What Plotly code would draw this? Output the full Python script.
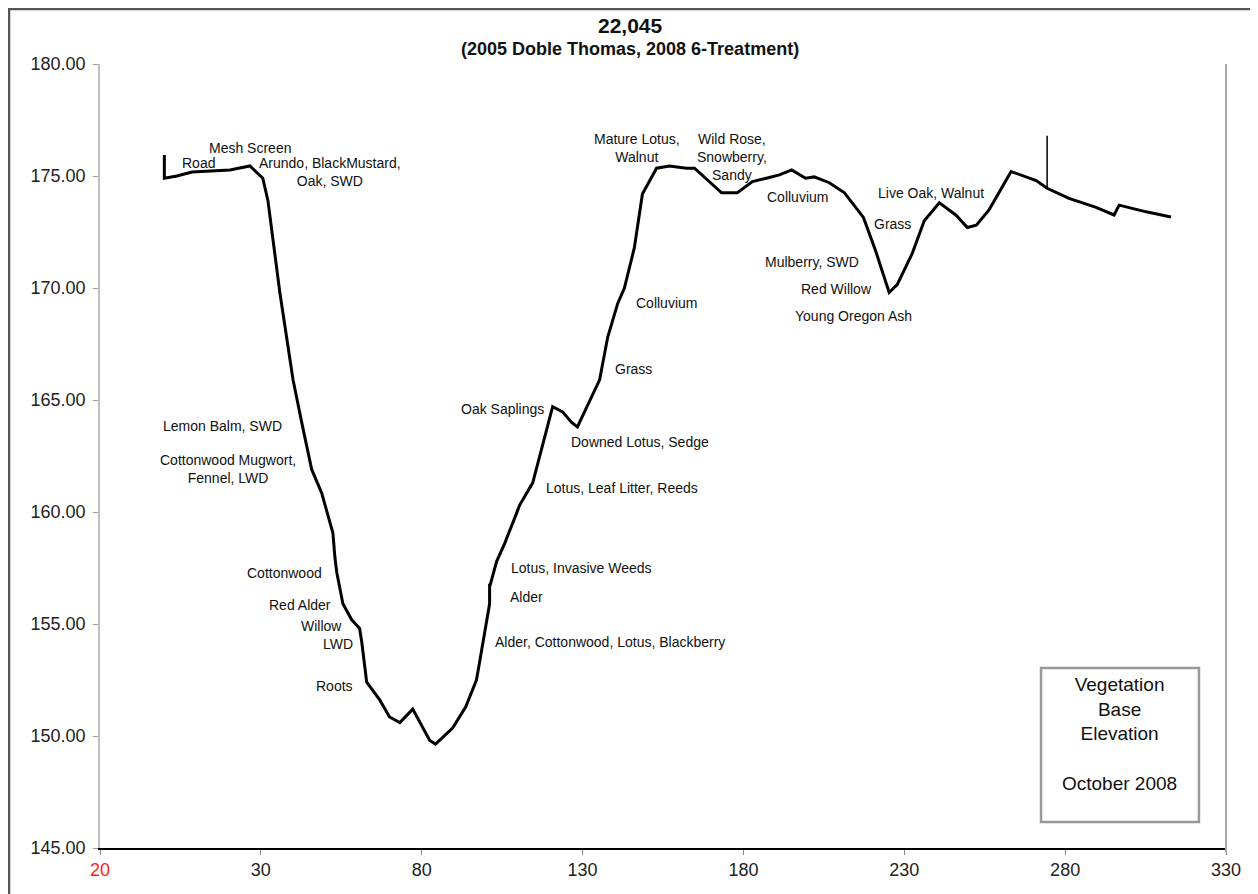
import plotly.graph_objects as go

# ---- data ----
distance = [0, 0, 3.9, 8.6, 20.4, 26.6, 30.6, 32.2, 35.9, 40.0, 42.7, 45.8, 48.9, 52.4, 53.0,
            53.6, 55.5, 58.2, 60.7, 61.4, 62.9, 67.0, 70.0, 73.2, 77.2, 82.5, 84.3, 89.6, 93.7,
            97.0, 98.0, 101.1, 101.1, 101.1, 103.3, 105.8, 109.5, 110.4, 114.5, 116.6, 120.7,
            123.8, 126.6, 128.4, 132.2, 135.3, 137.8, 140.9, 143.0, 146.1, 148.6, 150.2, 153.0,
            157.0, 162.3, 164.8, 173.2, 178.1, 182.8, 187.1, 191.2, 195.0, 199.3, 202.0, 206.7,
            211.4, 217.3, 221.0, 225.3, 227.8, 232.5, 236.2, 240.9, 246.1, 249.6, 252.4, 256.4,
            263.2, 271.0, 274.4, 281.2, 289.6, 295.2, 296.8, 305.2, 312.9]
elevation = [175.94, 174.9, 175.0, 175.18, 175.27, 175.45, 174.9, 173.9, 169.8, 165.9, 164.0,
             161.9, 160.85, 159.06, 158.0, 157.3, 155.9, 155.2, 154.8, 154.15, 152.4, 151.6,
             150.85, 150.6, 151.2, 149.8, 149.64, 150.35, 151.3, 152.5, 153.3, 155.9, 156.8,
             156.65, 157.8, 158.6, 159.95, 160.3, 161.3, 162.45, 164.7, 164.47, 164.0, 163.8,
             165.0, 165.9, 167.8, 169.3, 170.0, 171.8, 174.2, 174.6, 175.35, 175.45, 175.35,
             175.35, 174.25, 174.25, 174.75, 174.9, 175.05, 175.27, 174.9, 174.96, 174.7,
             174.25, 173.15, 171.7, 169.8, 170.15, 171.55, 173.0, 173.8, 173.25, 172.7, 172.8,
             173.5, 175.2, 174.8, 174.45, 174.0, 173.6, 173.26, 173.7, 173.4, 173.17]

marker_x = [274.4, 274.4]
marker_y = [174.45, 176.8]

tick_vals = [-20, 30, 80, 130, 180, 230, 280, 330]
tick_text = ["<span style='color:#ff2020'>20</span>", "30", "80", "130", "180", "230", "280", "330"]

label_text = ["Mesh Screen", "Road", "Arundo, BlackMustard,<br>Oak, SWD", "Mature Lotus,<br>Walnut",
              "Wild Rose,<br>Snowberry,<br>Sandy", "Colluvium", "Live Oak, Walnut", "Grass",
              "Mulberry, SWD", "Red Willow", "Young Oregon Ash", "Colluvium", "Grass",
              "Oak Saplings", "Downed Lotus, Sedge", "Lotus, Leaf Litter, Reeds",
              "Lotus, Invasive Weeds", "Alder", "Alder, Cottonwood, Lotus, Blackberry",
              "Lemon Balm, SWD", "Cottonwood Mugwort,<br>Fennel, LWD", "Cottonwood",
              "Red Alder", "Willow", "LWD", "Roots"]
label_x = [26.6, 10.7, 51.4, 146.8, 176.3, 196.8, 238.4, 226.3, 201.4, 208.9, 214.2, 156.1,
           145.8, 105.2, 147.7, 142.4, 129.7, 112.6, 138.4, 18.2, 19.75, 37.5, 42.1, 48.9,
           53.9, 53.0]
label_y = [176.25, 175.58, 175.18, 176.25, 175.85, 174.06, 174.24, 172.86, 171.16, 169.96,
           168.75, 169.33, 166.38, 164.6, 163.13, 161.07, 157.5, 156.2, 154.2, 163.84, 161.9,
           157.28, 155.85, 154.9, 154.1, 152.23]

FONT = "Liberation Sans, Arial, sans-serif"

fig = go.Figure()
fig.add_trace(go.Scatter(x=distance, y=elevation, mode="lines",
                         line=dict(color="black", width=3), showlegend=False,
                         hoverinfo="skip"))
fig.add_trace(go.Scatter(x=marker_x, y=marker_y, mode="lines",
                         line=dict(color="black", width=1.5), showlegend=False,
                         hoverinfo="skip"))

annotations = []
for t, x, y in zip(label_text, label_x, label_y):
    annotations.append(dict(text=t, x=x, y=y, xref="x", yref="y", showarrow=False,
                            xanchor="center", yanchor="middle",
                            font=dict(family=FONT, size=14, color="#111111")))

# title
annotations.append(dict(text="<b>22,045</b>", x=0.4707, y=1.0497, xref="paper", yref="paper",
                        showarrow=False, xanchor="center", yanchor="middle",
                        font=dict(family=FONT, size=21, color="#111111")))
annotations.append(dict(text="<b>(2005 Doble Thomas, 2008 6-Treatment)</b>", x=0.4707, y=1.019,
                        xref="paper", yref="paper", showarrow=False, xanchor="center",
                        yanchor="middle", font=dict(family=FONT, size=18, color="#111111")))
# vegetation box text
annotations.append(dict(text="Vegetation<br>Base<br>Elevation<br><br>October 2008",
                        x=297.0, y=150.1, xref="x", yref="y", showarrow=False,
                        xanchor="center", yanchor="middle",
                        font=dict(family=FONT, size=19, color="#111111")))

shapes = [
    # vegetation box
    dict(type="rect", xref="x", yref="y", x0=272.5, x1=321.6, y0=146.16, y1=153.04,
         line=dict(color="#999999", width=2.5)),
    # right plot-area line
    dict(type="line", xref="paper", yref="paper", x0=1.0, x1=1.0, y0=-0.005, y1=1.0,
         line=dict(color="#aaaaaa", width=2)),
    # outer frame
    dict(type="rect", xref="paper", yref="paper", x0=-0.0808, x1=1.024, y0=-0.08, y1=1.0702,
         line=dict(color="#555555", width=2.5)),
]

fig.update_layout(
    width=1250, height=886,
    margin=dict(l=92, r=32, t=56, b=46),
    paper_bgcolor="white", plot_bgcolor="white",
    font=dict(family=FONT, color="#222222"),
    annotations=annotations, shapes=shapes,
    showlegend=False,
)
fig.update_xaxes(range=[-20, 330], tickvals=tick_vals, ticktext=tick_text,
                 showgrid=False, zeroline=False, showline=True, linecolor="black",
                 linewidth=1.5, ticks="outside", ticklen=5, tickcolor="#888888",
                 tickfont=dict(family=FONT, size=18, color="#222222"))
fig.update_yaxes(range=[145, 180], dtick=5, tickformat=".2f",
                 showgrid=False, zeroline=False, showline=True, linecolor="#c0c0c0",
                 linewidth=1.5, ticks="outside", ticklen=5, tickcolor="#999999",
                 ticklabelstandoff=4,
                 tickfont=dict(family=FONT, size=18, color="#222222"))

fig.write_html("out.html")
